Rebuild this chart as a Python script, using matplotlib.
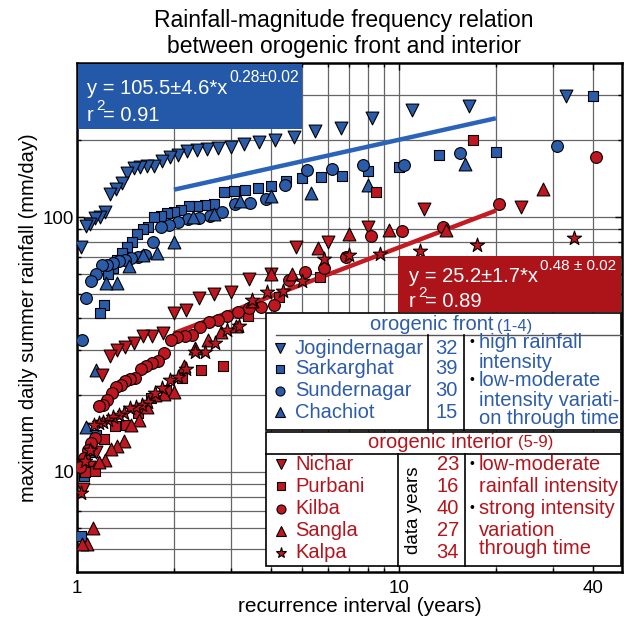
import numpy as np
import matplotlib
matplotlib.use('Agg')
import matplotlib.pyplot as plt
from matplotlib.patches import Rectangle
from matplotlib.lines import Line2D
from matplotlib.ticker import FixedLocator, NullFormatter

plt.rcParams['font.family'] = ['Liberation Sans', 'DejaVu Sans']

W, H = 633, 621

# stations, data years and max daily rainfall values sorted high -> low (mm/day)
stations = ['Jogindernagar', 'Sarkarghat', 'Sundernagar', 'Chachiot',
            'Nichar', 'Purbani', 'Kilba', 'Sangla', 'Kalpa']
data_years = [32, 39, 30, 15, 23, 16, 40, 27, 34]
markers = ['v', 's', 'o', '^', 'v', 's', 'o', '^', '*']

jogindernagar = [298, 272, 263, 244, 223, 217, 206, 200, 197, 193, 188, 187, 185, 183, 181, 175,
                 172, 166, 159, 159, 157, 156, 149, 136, 129, 123, 105, 100, 99, 94, 92, 76]
sarkarghat = [298, 180, 175, 157, 151, 145, 143, 142, 138, 132, 130, 128, 126, 125, 112, 111, 110,
              110, 107, 105, 104, 101, 100, 91, 90, 86, 80, 76, 72, 68, 63, 60, 45, 42, 14, 12,
              10.5, 9.6, 5.6]
sundernagar = [190, 178, 160, 160, 154, 153, 133, 118, 113, 112, 105, 101, 99, 98, 96, 93, 91, 80,
               71, 70, 69, 68, 67, 66, 65, 65, 60, 56, 48, 33]
chachiot = [161, 133, 124, 121, 116, 103, 100, 80, 72, 71, 64, 55, 55, 25, 15]
nichar = [109, 108, 91, 80, 76, 60, 57, 51, 50, 48, 43, 42, 35, 34, 34, 32, 31, 30, 28.5, 24,
          12, 10.5, 8.6]
purbani = [200, 125, 58, 48.6, 41, 26, 25, 23.4, 21, 19.5, 17, 15.3, 15.2, 13.5, 10.1, 10]
kilba = [172, 112, 91, 88, 84, 70, 63, 61, 56.6, 45, 44.5, 44, 42.4, 41, 39.5, 38.8, 37, 34.5,
         34, 33.8, 33, 29.3, 27.2, 26.8, 26, 25.3, 23.3, 23.2, 22.8, 21.9, 21.6, 20.4, 19.2, 18.3,
         18.2, 13.6, 13, 12.2, 11.3, 10.5]
sangla = [129, 89, 89, 86, 75.6, 60, 60, 47, 37.5, 35.5, 33, 30.6, 26, 20.6, 20.2, 20, 18, 16,
          15.3, 13.2, 12.6, 12.3, 11.1, 10.9, 6.0, 5.2, 5.2]
kalpa = [82.7, 78, 73.6, 71.6, 71, 68.4, 56, 51.3, 50.8, 47.3, 37.4, 36, 32, 29.6, 29.6, 25.4,
         23.6, 23, 21.4, 20.4, 18.8, 18.3, 18, 17.8, 17, 16.7, 16.4, 16, 15.7, 15.5, 15.3, 12.2,
         11, 8.3]
rainfall = [jogindernagar, sarkarghat, sundernagar, chachiot, nichar, purbani, kilba, sangla, kalpa]

# power-law fit lines (end points)
fit_x = [2, 20]
front_fit = [128, 244]
interior_fit = [35, 106]

blue = '#2a5caa'
red = '#c0161f'
blue_txt = '#2d5cab'
red_txt = '#b5141c'

FS = 14.5


def fx(px):
    return px / W


def fy(py):
    return 1 - py / H


fig = plt.figure(figsize=(W / 100, H / 100), dpi=100)
ax = fig.add_axes([fx(77), fy(572), 545 / W, 509 / H])
ax.set_xscale('log')
ax.set_yscale('log')
ax.set_xlim(1, 49.3)
ax.set_ylim(4.05, 402)

ax.xaxis.set_major_locator(FixedLocator([1, 10, 40]))
ax.xaxis.set_minor_locator(FixedLocator([2, 3, 4, 5, 6, 7, 8, 9, 20, 30]))
ax.set_xticklabels(['1', '10', '40'])
ax.xaxis.set_minor_formatter(NullFormatter())
ax.yaxis.set_major_locator(FixedLocator([10, 100]))
ax.yaxis.set_minor_locator(FixedLocator([5, 6, 7, 8, 9, 20, 30, 40, 50, 60, 70, 80, 90, 200, 300]))
ax.set_yticklabels(['10', '100'])
ax.yaxis.set_minor_formatter(NullFormatter())
ax.tick_params(which='both', direction='in', top=True, right=True, labelsize=13.5, width=1)
ax.tick_params(which='major', length=5)
ax.tick_params(axis='x', which='major', pad=6)
ax.tick_params(axis='y', which='major', pad=2)
ax.tick_params(which='minor', length=3)
ax.grid(True, which='both', color='#666666', lw=0.9)
ax.set_axisbelow(True)
for s in ax.spines.values():
    s.set_linewidth(1.8)

ax.plot(fit_x, front_fit, color='#2b63b8', lw=3.2, solid_capstyle='butt', zorder=2)
ax.plot(fit_x, interior_fit, color='#c41a22', lw=3.2, solid_capstyle='butt', zorder=2)

sizes = {'v': 85, 's': 60, 'o': 72, '^': 85, '*': 115}
for i in range(len(stations)):
    n = data_years[i]
    ri = (n + 1) / np.arange(1, n + 1)
    col = blue if i < 4 else red
    ax.scatter(ri, rainfall[i], marker=markers[i], s=sizes[markers[i]], c=col,
               edgecolors='black', linewidths=0.8, zorder=3 + i * 0.1)

fig.text(fx(29), fy(318), 'maximum daily summer rainfall (mm/day)', fontsize=FS,
         rotation=90, ha='center', va='center')
fig.text(fx(360), fy(606), 'recurrence interval (years)', fontsize=15, ha='center', va='center')
fig.text(fx(344), fy(21), 'Rainfall-magnitude frequency relation', fontsize=16.5, ha='center', va='center')
fig.text(fx(344), fy(47), 'between orogenic front and interior', fontsize=16.5, ha='center', va='center')


def rect(x0, y0, x1, y1, fc='white', ec='black', lw=1.2):
    fig.add_artist(Rectangle((fx(x0), fy(y1)), (x1 - x0) / W, (y1 - y0) / H,
                             transform=fig.transFigure, fc=fc, ec=ec, lw=lw, zorder=5))


def line(x0, y0, x1, y1, col='black', lw=1.2):
    fig.add_artist(Line2D([fx(x0), fx(x1)], [fy(y0), fy(y1)], transform=fig.transFigure,
                          color=col, lw=lw, zorder=6))


def txt(x, y, s, size=FS, col='black', ha='left', **kw):
    fig.text(fx(x), fy(y), s, fontsize=size, color=col, ha=ha, va='center', zorder=7, **kw)


# fit equation boxes
rect(78, 64, 302, 129, fc='#2458a8', ec='none', lw=0)
txt(87, 88, 'y = 105.5±4.6*x', 14.5, 'white')
txt(229, 77, '0.28±0.02', 11.3, 'white')
txt(87, 116, 'r', 14.5, 'white')
txt(96, 106, '2', 11, 'white')
txt(103, 116, '= 0.91', 14.5, 'white')

rect(398, 256, 621, 312, fc='#ad1419', ec='none', lw=0)
txt(409, 276, 'y = 25.2±1.7*x', 14.5, 'white')
txt(540, 266, '0.48 ± 0.02', 11, 'white')
txt(409, 302, 'r', 14.5, 'white')
txt(418, 293, '2', 11, 'white')
txt(425, 302, '= 0.89', 14.5, 'white')

# legend table - orogenic front
rect(266, 313, 621, 430)
txt(493, 325, 'orogenic front', FS, blue_txt, ha='right')
txt(497, 326, '(1-4)', 12, blue_txt)
line(276, 335, 621, 335, '#555555', 1.0)
line(428, 335, 428, 430)
line(464, 335, 464, 430)
rows_front = [348, 369, 391, 412]
for k in range(4):
    fig.add_artist(Line2D([fx(280)], [fy(rows_front[k])], marker=markers[k], ms=6.5 if markers[k] != 's' else 5.5,
                          mfc=blue, mec='black', mew=0.8, ls='none', transform=fig.transFigure, zorder=7))
    txt(295, rows_front[k], stations[k], FS, blue_txt)
    txt(458, rows_front[k], str(data_years[k]), FS, blue_txt, ha='right')
txt(469, 342, '•', 10)
txt(479, 343, 'high rainfall', FS, blue_txt)
txt(479, 362, 'intensity', FS, blue_txt)
txt(469, 380, '•', 10)
txt(479, 381, 'low-moderate', FS, blue_txt)
txt(479, 400, 'intensity variati-', FS, blue_txt)
txt(479, 418, 'on through time', FS, blue_txt)

# legend table - orogenic interior
rect(266, 432, 621, 566)
txt(513, 442, 'orogenic interior', FS, red_txt, ha='right')
txt(518, 443, '(5-9)', 12, red_txt)
line(266, 454, 621, 454)
line(398, 454, 398, 566)
line(465, 454, 465, 566)
rows_int = [464, 486, 509, 531, 553]
for k in range(5):
    m = markers[k + 4]
    fig.add_artist(Line2D([fx(281)], [fy(rows_int[k])], marker=m,
                          ms={'s': 5.5, '*': 8}.get(m, 6.5),
                          mfc=red, mec='black', mew=0.8, ls='none', transform=fig.transFigure, zorder=7))
    txt(295, rows_int[k], stations[k + 4], FS, red_txt)
    txt(459, rows_int[k], str(data_years[k + 4]), FS, red_txt, ha='right')
fig.text(fx(414), fy(510), 'data years', fontsize=13.5, rotation=90, ha='center', va='center', zorder=7)
txt(469, 464, '•', 10)
txt(479, 465, 'low-moderate', FS, red_txt)
txt(479, 486, 'rainfall intensity', FS, red_txt)
txt(469, 508, '•', 10)
txt(479, 509, 'strong intensity', FS, red_txt)
txt(479, 530, 'variation', FS, red_txt)
txt(479, 549, 'through time', FS, red_txt)

fig.savefig('out.png', dpi=100)
